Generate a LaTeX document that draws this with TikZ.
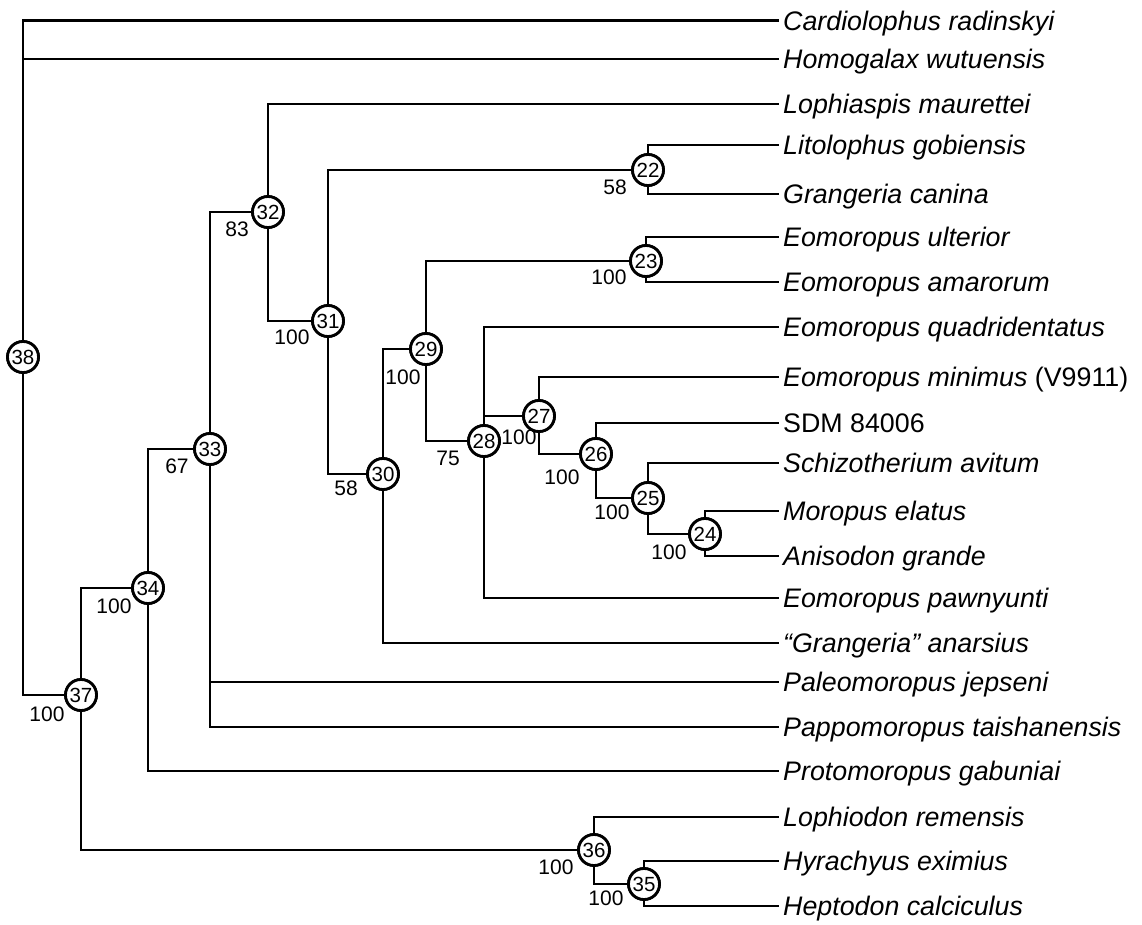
\documentclass[tikz,border=0pt]{standalone}
\usepackage{fontspec}
\setmainfont{Liberation Sans}
\usetikzlibrary{calc}
\begin{document}
\begin{tikzpicture}[x=1pt,y=-1pt,
  br/.style={line width=2.7pt,line cap=rect},
  cnode/.style={circle,draw,fill=white,line width=2.8pt,minimum size=31pt,inner sep=0pt,font=\fontsize{20.5}{21}\selectfont},
  sup/.style={inner sep=0pt,font=\fontsize{21}{22}\selectfont},
  tip/.style={anchor=base west,inner sep=0pt,font=\fontsize{26.8}{30}\selectfont\itshape}]
\useasboundingbox (0,0) rectangle (1142,925);
% tip coordinates
\def\tx{778}
\coordinate (tCard) at (\tx,20.7);
\coordinate (tHomo) at (\tx,59);
\coordinate (tLoph) at (\tx,104);
\coordinate (tLito) at (\tx,145);
\coordinate (tGcan) at (\tx,194);
\coordinate (tEult) at (\tx,237);
\coordinate (tEama) at (\tx,282);
\coordinate (tEqua) at (\tx,327);
\coordinate (tEmin) at (\tx,377);
\coordinate (tSDM) at (\tx,423);
\coordinate (tSchi) at (\tx,463);
\coordinate (tMoro) at (\tx,511);
\coordinate (tAnis) at (\tx,556);
\coordinate (tEpaw) at (\tx,598);
\coordinate (tGana) at (\tx,643);
\coordinate (tPale) at (\tx,682);
\coordinate (tPapp) at (\tx,727);
\coordinate (tProt) at (\tx,771);
\coordinate (tLphd) at (\tx,817);
\coordinate (tHyra) at (\tx,861);
\coordinate (tHept) at (\tx,906);
% internal node positions
\path (23,357) coordinate (p38) (81,695) coordinate (p37) (148,588) coordinate (p34)
 (210,449) coordinate (p33) (268,212) coordinate (p32) (328,321) coordinate (p31)
 (648,170) coordinate (p22) (383,474) coordinate (p30) (426,349) coordinate (p29)
 (646,261) coordinate (p23) (484,441) coordinate (p28) (539,416) coordinate (p27)
 (596,454) coordinate (p26) (648,498) coordinate (p25) (705,534) coordinate (p24)
 (594,850) coordinate (p36) (644,884) coordinate (p35);
\foreach \n in {38,37,34,33,32,31,22,30,29,23,28,27,26,25,24,36,35}
  \node[cnode] (n\n) at (p\n) {\n};
% branches
\draw[br] (tCard) -| (n38);
\draw[br] (tHomo) -| (n38);
\draw[br] (n38) |- (n37);
\draw[br] (n37) |- (n34);
\draw[br] (n37) |- (n36);
\draw[br] (n34) |- (n33);
\draw[br] (n34) |- (tProt);
\draw[br] (n33) |- (n32);
\draw[br] (n33) |- (tPale);
\draw[br] (n33) |- (tPapp);
\draw[br] (n32) |- (tLoph);
\draw[br] (n32) |- (n31);
\draw[br] (n31) |- (n22);
\draw[br] (n31) |- (n30);
\draw[br] (n22) |- (tLito);
\draw[br] (n22) |- (tGcan);
\draw[br] (n30) |- (n29);
\draw[br] (n30) |- (tGana);
\draw[br] (n29) |- (n23);
\draw[br] (n29) |- (n28);
\draw[br] (n23) |- (tEult);
\draw[br] (n23) |- (tEama);
\draw[br] (n28) |- (tEqua);
\draw[br] (n28) |- (n27);
\draw[br] (n28) |- (tEpaw);
\draw[br] (n27) |- (tEmin);
\draw[br] (n27) |- (n26);
\draw[br] (n26) |- (tSDM);
\draw[br] (n26) |- (n25);
\draw[br] (n25) |- (tSchi);
\draw[br] (n25) |- (n24);
\draw[br] (n24) |- (tMoro);
\draw[br] (n24) |- (tAnis);
\draw[br] (n36) |- (tLphd);
\draw[br] (n36) |- (n35);
\draw[br] (n35) |- (tHyra);
\draw[br] (n35) |- (tHept);
% redraw circles on top of the branches
\foreach \n in {38,37,34,33,32,31,22,30,29,23,28,27,26,25,24,36,35}
  \node[cnode] at (p\n) {\n};
% support values
\node[sup] (s37) at (47,714) {100};
\node[sup] (s34) at (114,606) {100};
\node[sup] (s33) at (177,466) {67};
\node[sup] (s32) at (237,229) {83};
\node[sup] (s31) at (292,337) {100};
\node[sup] (s22) at (615,187) {58};
\node[sup] (s30) at (346,488) {58};
\node[sup] (s29) at (403,377) {100};
\node[sup] (s23) at (609,277) {100};
\node[sup] (s28) at (448,458) {75};
\node[sup] (s27) at (519,437) {100};
\node[sup] (s26) at (562,477) {100};
\node[sup] (s25) at (612,512) {100};
\node[sup] (s24) at (669,552) {100};
\node[sup] (s36) at (556,867) {100};
\node[sup] (s35) at (606,898) {100};
% tip labels
\def\dy{9.6}
\node[tip] (lCard) at ($(tCard)+(5,\dy)$) {Cardiolophus radinskyi};
\node[tip] (lHomo) at ($(tHomo)+(5,\dy)$) {Homogalax wutuensis};
\node[tip] (lLoph) at ($(tLoph)+(5,\dy)$) {Lophiaspis maurettei};
\node[tip] (lLito) at ($(tLito)+(5,\dy)$) {Litolophus gobiensis};
\node[tip] (lGcan) at ($(tGcan)+(5,\dy)$) {Grangeria canina};
\node[tip] (lEult) at ($(tEult)+(5,\dy)$) {Eomoropus ulterior};
\node[tip] (lEama) at ($(tEama)+(5,\dy)$) {Eomoropus amarorum};
\node[tip] (lEqua) at ($(tEqua)+(5,\dy)$) {Eomoropus quadridentatus};
\node[tip] (lEmin) at ($(tEmin)+(5,\dy)$) {Eomoropus minimus\/\upshape{} (V9911)};
\node[tip] (lSDM) at ($(tSDM)+(5,\dy)$) {\upshape SDM 84006};
\node[tip] (lSchi) at ($(tSchi)+(5,\dy)$) {Schizotherium avitum};
\node[tip] (lMoro) at ($(tMoro)+(5,\dy)$) {Moropus elatus};
\node[tip] (lAnis) at ($(tAnis)+(5,\dy)$) {Anisodon grande};
\node[tip] (lEpaw) at ($(tEpaw)+(5,\dy)$) {Eomoropus pawnyunti};
\node[tip] (lGana) at ($(tGana)+(5,\dy)$) {“Grangeria” anarsius};
\node[tip] (lPale) at ($(tPale)+(5,\dy)$) {Paleomoropus jepseni};
\node[tip] (lPapp) at ($(tPapp)+(5,\dy)$) {Pappomoropus taishanensis};
\node[tip] (lProt) at ($(tProt)+(5,\dy)$) {Protomoropus gabuniai};
\node[tip] (lLphd) at ($(tLphd)+(5,\dy)$) {Lophiodon remensis};
\node[tip] (lHyra) at ($(tHyra)+(5,\dy)$) {Hyrachyus eximius};
\node[tip] (lHept) at ($(tHept)+(5,\dy)$) {Heptodon calciculus};
\end{tikzpicture}
\end{document}
